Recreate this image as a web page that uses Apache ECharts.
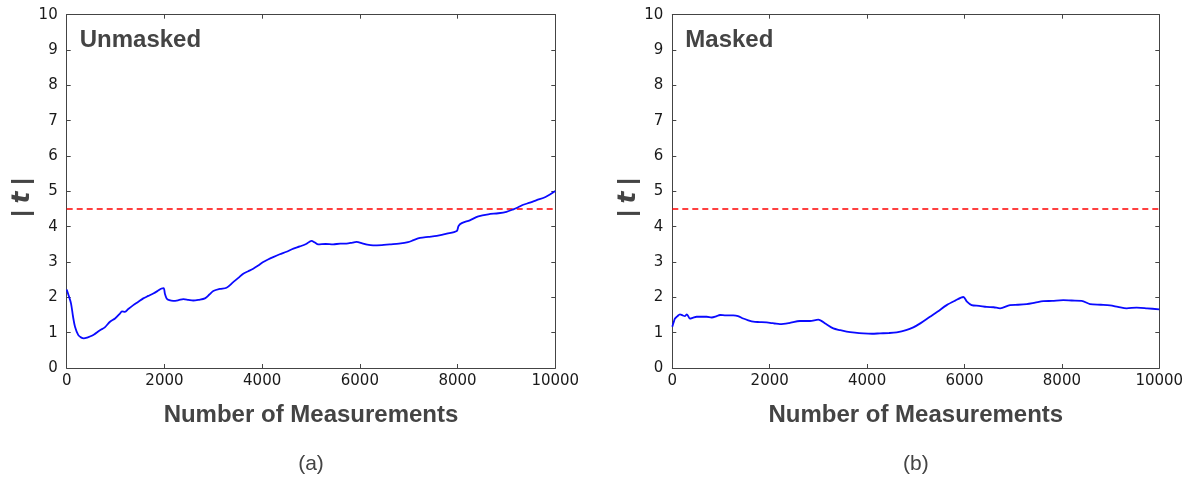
<!DOCTYPE html>
<html><head><meta charset="utf-8">
<script src="https://cdn.jsdelivr.net/npm/echarts@6/dist/echarts.min.js"></script>
<style>html,body{margin:0;padding:0;background:#fff}#c{width:1191px;height:477px}</style>
</head><body><div id="c"></div><script>
// ---- data ----
const panelTitles = ['Unmasked', 'Masked'];
const panelLabels = ['(a)', '(b)'];
const xAxisName = 'Number of Measurements';
const threshold = 4.5;

const unmaskedX = [0, 40, 88, 130, 170, 238, 300, 350, 420, 476, 560, 681, 780, 886, 990, 1090, 1130, 1192, 1260, 1363, 1460, 1567, 1670, 1772, 1860, 1943, 1985, 2010, 2045, 2100, 2181, 2290, 2386, 2490, 2590, 2700, 2829, 2920, 3000, 3136, 3270, 3408, 3513, 3613, 3717, 3817, 3920, 4022, 4120, 4226, 4360, 4499, 4640, 4771, 4900, 5010, 5080, 5146, 5300, 5453, 5600, 5726, 5850, 5930, 6050, 6150, 6271, 6450, 6612, 6800, 6987, 7100, 7233, 7400, 7574, 7780, 7983, 8020, 8085, 8250, 8424, 8629, 8834, 9000, 9140, 9240, 9345, 9480, 9618, 9800, 10000];
const unmaskedY = [2.22, 2.05, 1.83, 1.45, 1.17, 0.93, 0.86, 0.84, 0.86, 0.89, 0.95, 1.07, 1.15, 1.31, 1.40, 1.54, 1.60, 1.59, 1.67, 1.78, 1.87, 1.97, 2.04, 2.11, 2.18, 2.25, 2.26, 2.10, 1.97, 1.92, 1.90, 1.92, 1.95, 1.93, 1.91, 1.93, 1.97, 2.08, 2.18, 2.24, 2.27, 2.43, 2.55, 2.67, 2.74, 2.81, 2.90, 3.00, 3.07, 3.14, 3.22, 3.29, 3.38, 3.44, 3.51, 3.60, 3.55, 3.50, 3.51, 3.50, 3.52, 3.52, 3.55, 3.57, 3.53, 3.49, 3.47, 3.48, 3.50, 3.52, 3.56, 3.62, 3.68, 3.71, 3.74, 3.80, 3.88, 4.02, 4.10, 4.18, 4.29, 4.35, 4.38, 4.42, 4.49, 4.55, 4.62, 4.68, 4.75, 4.84, 5.01];

const maskedX = [0, 30, 55, 100, 158, 210, 261, 300, 363, 420, 500, 600, 706, 808, 900, 980, 1100, 1252, 1350, 1457, 1560, 1663, 1800, 2006, 2100, 2211, 2400, 2622, 2827, 2998, 3150, 3306, 3450, 3580, 3750, 3922, 4100, 4265, 4450, 4608, 4800, 4949, 5100, 5291, 5450, 5634, 5800, 5976, 6050, 6147, 6300, 6456, 6600, 6730, 6935, 7100, 7277, 7450, 7618, 7800, 8029, 8200, 8406, 8577, 8800, 8988, 9150, 9330, 9535, 9750, 10000];
const maskedY = [1.17, 1.30, 1.40, 1.46, 1.52, 1.49, 1.47, 1.52, 1.40, 1.42, 1.45, 1.45, 1.45, 1.43, 1.46, 1.50, 1.49, 1.49, 1.47, 1.40, 1.35, 1.31, 1.30, 1.28, 1.26, 1.24, 1.27, 1.33, 1.33, 1.37, 1.25, 1.12, 1.07, 1.03, 1.00, 0.98, 0.97, 0.98, 0.99, 1.01, 1.07, 1.15, 1.27, 1.45, 1.60, 1.78, 1.90, 2.01, 1.88, 1.78, 1.76, 1.73, 1.72, 1.69, 1.78, 1.79, 1.81, 1.85, 1.89, 1.90, 1.92, 1.91, 1.90, 1.81, 1.79, 1.77, 1.73, 1.69, 1.71, 1.69, 1.66];

const xMin = 0, xMax = 10000, xStep = 2000;
const yMin = 0, yMax = 10, yStep = 1;

// ---- chart ----
const chart = echarts.init(document.getElementById('c'), null, {renderer: 'canvas'});
const frame = '#444';
const grids = [
  {left: 66.7, top: 14.7, width: 488.6, height: 353.3},
  {left: 672.3, top: 14.7, width: 487, height: 353.3}
];
function xAx(g, pos, show) {
  return {type: 'value', gridIndex: g, position: pos, min: xMin, max: xMax, interval: xStep,
    axisLine: {onZero: false, lineStyle: {color: frame, width: 1}},
    axisTick: {inside: true, length: 4, lineStyle: {color: frame}},
    splitLine: {show: false},
    axisLabel: {show: show, margin: 6, fontFamily: 'DejaVu Sans', fontSize: 15, color: '#1a1a1a',
      formatter: v => String(v)}};
}
function yAx(g, pos, show) {
  return {type: 'value', gridIndex: g, position: pos, min: yMin, max: yMax, interval: yStep,
    axisLine: {onZero: false, lineStyle: {color: frame, width: 1}},
    axisTick: {inside: true, length: 4, lineStyle: {color: frame}},
    splitLine: {show: false},
    axisLabel: {show: show, margin: 9, fontFamily: 'DejaVu Sans', fontSize: 15, color: '#1a1a1a',
      formatter: v => String(v)}};
}
const xAxes = [], yAxes = [], series = [], graphics = [];
const allX = [unmaskedX, maskedX], allY = [unmaskedY, maskedY];
for (let g = 0; g < 2; g++) {
  xAxes.push(xAx(g, 'bottom', true), xAx(g, 'top', false));
  yAxes.push(yAx(g, 'left', true), yAx(g, 'right', false));
  series.push({
    type: 'line', xAxisIndex: 2 * g, yAxisIndex: 2 * g, showSymbol: false, symbol: 'none',
    smooth: 0.3, data: allX[g].map((x, i) => [x, allY[g][i]]),
    lineStyle: {color: '#0a0aff', width: 1.8}, z: 3
  });
  series.push({
    type: 'line', xAxisIndex: 2 * g, yAxisIndex: 2 * g, showSymbol: false, symbol: 'none',
    data: [[xMin, threshold], [xMax, threshold]],
    lineStyle: {color: '#ff0000', width: 1.6, type: [6, 4]}, z: 2
  });
  const gr = grids[g];
  const cx = gr.left + gr.width / 2;
  graphics.push({type: 'text', left: gr.left + 13, top: 28,
    style: {text: panelTitles[g], font: 'bold 24px "Liberation Sans", Arial, sans-serif', fill: '#444'}});
  graphics.push({type: 'text', x: cx, y: 415,
    style: {text: xAxisName, font: 'bold 24px "Liberation Sans", Arial, sans-serif', fill: '#444', align: 'center', verticalAlign: 'middle'}});
  graphics.push({type: 'text', x: cx, y: 464,
    style: {text: panelLabels[g], font: '21px "Liberation Sans", Arial, sans-serif', fill: '#444', align: 'center', verticalAlign: 'middle'}});
  graphics.push({type: 'text', x: gr.left - 44, y: 197.5, rotation: Math.PI / 2,
    style: {text: '{b||} {i|t} {b||}', align: 'center', verticalAlign: 'middle',
      rich: {
        b: {font: 'bold 24px "Liberation Sans", Arial, sans-serif', fill: '#444'},
        i: {font: 'italic bold 25px "DejaVu Sans", sans-serif', fill: '#444'}
      },
      font: 'bold 24px "Liberation Sans", Arial, sans-serif', fill: '#444'}});
}
chart.setOption({
  animation: false,
  backgroundColor: '#fff',
  grid: grids,
  xAxis: xAxes,
  yAxis: yAxes,
  series: series,
  graphic: graphics
});
</script></body></html>
